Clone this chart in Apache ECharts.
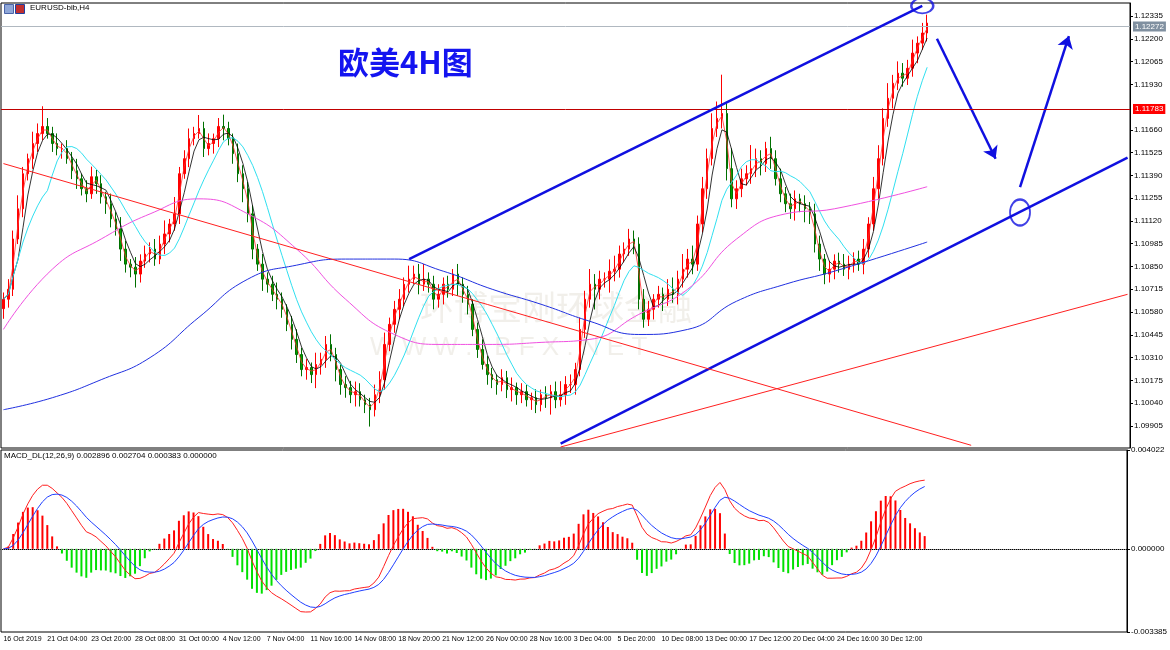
<!DOCTYPE html>
<html><head><meta charset="utf-8">
<script src="https://cdn.jsdelivr.net/npm/echarts@6/dist/echarts.min.js"></script>
<style>html,body{margin:0;padding:0;background:#fff}#c{width:1170px;height:650px}</style>
</head><body><div id="c"></div>
<script>
const closes = [
1.10656,1.10715,1.11013,1.11192,1.11400,1.11489,1.11579,1.11638,1.11680,1.11638,
1.11579,1.11549,1.11549,1.11489,1.11418,1.11370,1.11311,1.11281,1.11382,1.11341,
1.11263,1.11222,1.11132,1.11073,1.10953,1.10864,1.10846,1.10805,1.10882,1.10924,
1.10953,1.10894,1.10983,1.11043,1.11102,1.11162,1.11400,1.11489,1.11608,1.11638,
1.11668,1.11549,1.11579,1.11608,1.11680,1.11668,1.11608,1.11519,1.11400,1.11311,
1.11162,1.10953,1.10864,1.10775,1.10745,1.10685,1.10656,1.10596,1.10507,1.10418,
1.10328,1.10239,1.10251,1.10209,1.10269,1.10299,1.10388,1.10328,1.10239,1.10150,
1.10132,1.10090,1.10108,1.10060,1.10031,1.10001,1.10090,1.10179,1.10388,1.10507,
1.10596,1.10656,1.10745,1.10775,1.10805,1.10745,1.10775,1.10745,1.10656,1.10685,
1.10745,1.10715,1.10805,1.10745,1.10685,1.10626,1.10477,1.10358,1.10269,1.10209,
1.10179,1.10150,1.10191,1.10120,1.10132,1.10090,1.10108,1.10060,1.10072,1.10031,
1.10090,1.10072,1.10108,1.10060,1.10090,1.10150,1.10150,1.10239,1.10477,1.10656,
1.10745,1.10715,1.10775,1.10775,1.10822,1.10834,1.10924,1.10953,1.11013,1.10983,
1.10656,1.10537,1.10596,1.10656,1.10685,1.10656,1.10715,1.10685,1.10775,1.10834,
1.10894,1.10864,1.11102,1.11311,1.11489,1.11668,1.11728,1.11757,1.11430,1.11251,
1.11311,1.11370,1.11400,1.11430,1.11489,1.11460,1.11549,1.11489,1.11370,1.11281,
1.11222,1.11192,1.11251,1.11222,1.11192,1.11162,1.10983,1.10894,1.10805,1.10834,
1.10882,1.10864,1.10834,1.10864,1.10894,1.10864,1.10953,1.11102,1.11311,1.11489,
1.11728,1.11847,1.11936,1.11996,1.11966,1.12025,1.12115,1.12174,1.12234,1.12293];
const firstOpen = 1.10600;
const upperWickPips = [
4,6,5,8,4,3,7,6,12,5, 4,6,3,5,4,7,3,5,6,4, 5,3,6,4,7,5,3,6,4,5, 4,6,5,8,3,10,4,5,6,4,
8,4,6,3,5,7,4,3,6,5, 4,5,3,6,4,5,7,4,3,5, 6,4,5,3,7,4,5,6,4,3, 5,4,6,5,3,4,6,5,7,4,
5,6,4,8,5,6,9,4,5,6, 4,5,3,6,4,5,3,4,6,5, 4,3,5,4,6,3,5,4,3,5, 3,5,4,6,8,5,6,4,7,5,
9,6,5,4,7,8,5,4,6,5, 4,6,5,3,5,4,6,7,5,9, 6,8,5,7,6,9,10,23,6,12, 5,6,5,14,6,5,4,7,5,6,
4,6,5,3,5,4,6,5,3,5, 4,5,6,5,4,5,6,4,7,8, 6,9,5,7,6,5,8,4,6,5];
const lowerWickPips = [
6,5,4,3,5,4,6,5,4,3, 5,4,6,3,5,6,4,5,3,6, 4,6,5,4,7,5,6,8,5,4, 5,4,3,6,5,4,6,3,5,4,
3,5,4,6,5,7,4,6,5,8, 5,6,4,7,5,4,6,5,4,6, 5,4,6,5,8,6,5,4,7,6, 6,5,7,4,5,10,4,5,6,4,
5,6,4,5,3,6,4,5,6,5, 6,5,4,7,5,6,4,5,3,6, 5,6,4,5,7,6,5,4,6,5, 4,6,10,5,4,6,5,6,4,5,
5,12,6,5,8,6,5,5,4,6, 6,5,4,6,5,7,4,5,6,5, 5,6,4,5,6,4,5,6,7,5, 6,5,4,6,5,7,5,6,4,5,
5,6,7,5,8,6,5,7,6,5, 6,5,4,6,5,4,6,5,4,6, 4,5,6,4,5,4,5,6,4,5];
const maMagentaRead = {0:1.10477,10:1.10834,20:1.11013,30:1.11162,40:1.11251,50:1.11162,60:1.10953,70:1.10656,80:1.10447,90:1.10388,100:1.10388,110:1.10400,120:1.10418,130:1.10566,140:1.10715,150:1.11013,160:1.11162,170:1.11192,189:1.11323};
const maBlueRead = {0:1.10001,10:1.10072,20:1.10179,30:1.10310,40:1.10549,50:1.10775,60:1.10858,70:1.10894,80:1.10894,90:1.10822,100:1.10715,110:1.10626,120:1.10525,130:1.10447,140:1.10477,150:1.10644,160:1.10745,170:1.10822,189:1.10995};
const priceTicks = [1.09905,1.10040,1.10175,1.10310,1.10445,1.10580,1.10715,1.10850,1.10985,1.11120,1.11255,1.11390,1.11525,1.11660,1.11930,1.12065,1.12200,1.12335];
const macdTicks = [-0.003385,0,0.004022];
const timeLabels = ['16 Oct 2019','21 Oct 04:00','23 Oct 20:00','28 Oct 08:00','31 Oct 00:00','4 Nov 12:00','7 Nov 04:00','11 Nov 16:00','14 Nov 08:00','18 Nov 20:00','21 Nov 12:00','26 Nov 00:00','28 Nov 16:00','3 Dec 04:00','5 Dec 20:00','10 Dec 08:00','13 Dec 00:00','17 Dec 12:00','20 Dec 04:00','24 Dec 16:00','30 Dec 12:00'];
const blankBars = 41;

const N = closes.length, T = N + blankBars;
const cats = Array.from({length:T},(_,i)=>i);
const ohlc = closes.map((c,i)=>{
  const o = i===0?firstOpen:closes[i-1];
  return [o,c,Math.min(o,c)-lowerWickPips[i]*0.0001,Math.max(o,c)+upperWickPips[i]*0.0001];
});
function sma(p){return closes.map((_,i)=>{const s=Math.max(0,i-p+1);let t=0;for(let k=s;k<=i;k++)t+=closes[k];return +(t/(i-s+1)).toFixed(5);});}
function sparse(m){return cats.map(i=>m[i]!==undefined?m[i]:null);}
function ema(arr,p){const a=2/(p+1);let r=[],v=arr[0];arr.forEach((x,i)=>{v=i?a*x+(1-a)*v:x;r.push(v);});return r;}
const e1=ema(closes,8),e2=ema(closes,17);
const macd=e1.map((v,i)=>v-e2[i]);
const sig=ema(macd,6);
const hist=macd.map((v,i)=>2*(v-sig[i]));
const tickShow=(i)=>i%9===0&&i/9<timeLabels.length;

const chart = echarts.init(document.getElementById('c'));
const F='"Liberation Sans",sans-serif';
chart.setOption({
  animation:false, backgroundColor:'#fff',
  title:{text:'欧美4H图',left:333,top:42,textStyle:{color:'#1414f0',fontSize:31,fontWeight:'bold',fontFamily:'"Noto Sans CJK SC"'}},
  graphic:[
    {type:'rect',left:4,top:4,shape:{width:9,height:9},style:{fill:'#8fa7d8',stroke:'#4a64a8'}},
    {type:'rect',left:15,top:4,shape:{width:9,height:9},style:{fill:'#c03030',stroke:'#2040a0'}},
    {type:'text',left:30,top:4,style:{text:'EURUSD-bib,H4',fontSize:8,fontFamily:F,fill:'#000'}},
    {type:'text',left:4,top:452,style:{text:'MACD_DL(12,26,9) 0.002896 0.002704 0.000383 0.000000',fontSize:8,fontFamily:F,fill:'#000'}},
    {type:'text',left:370,top:335,style:{text:'W W W . I B F X . N E T',fontSize:26,fontFamily:F,fill:'rgba(200,190,170,0.25)'}},
    {type:'text',left:420,top:290,style:{text:'环博宝刚环球金融',fontSize:34,fontFamily:'"Noto Sans CJK SC"',fill:'rgba(200,190,170,0.25)'}}
  ],
  grid:[
    {left:1,right:40,top:3,height:445,show:true,borderColor:'#000',borderWidth:1},
    {left:1,right:40,top:450,height:182,show:true,borderColor:'#000',borderWidth:1}
  ],
  xAxis:[
    {type:'category',data:cats,gridIndex:0,boundaryGap:true,axisLabel:{show:false},axisTick:{show:false},axisLine:{show:false}},
    {type:'category',data:cats,gridIndex:1,boundaryGap:true,axisLine:{lineStyle:{color:'#000'}},
     axisTick:{interval:tickShow,length:3,lineStyle:{color:'#000'}},
     axisLabel:{interval:tickShow,showMinLabel:true,hideOverlap:false,formatter:(v,i)=>timeLabels[i/9]||'',align:'left',fontSize:7,color:'#000',fontFamily:F,margin:4}}
  ],
  yAxis:[
    {type:'value',gridIndex:0,position:'right',min:1.09774,max:1.12412,splitLine:{show:false},
     axisLine:{show:true,lineStyle:{color:'#000'}},axisTick:{show:true,customValues:priceTicks,length:3},
     axisLabel:{customValues:priceTicks,formatter:v=>v.toFixed(5),fontSize:8,color:'#000',fontFamily:F,margin:4}},
    {type:'value',gridIndex:1,position:'right',min:-0.003385,max:0.004022,splitLine:{show:false},
     axisLine:{show:true,lineStyle:{color:'#000'}},axisTick:{show:true,customValues:macdTicks,length:3},
     axisLabel:{customValues:macdTicks,formatter:v=>v.toFixed(6),fontSize:8,color:'#000',fontFamily:F,margin:4}}
  ],
  series:[
    {type:'candlestick',data:ohlc,barWidth:2,itemStyle:{color:'#ff0000',color0:'#00a000',borderColor:'#ff0000',borderColor0:'#007000',borderWidth:1}},
    {type:'line',data:sma(2),symbol:'none',lineStyle:{color:'#ff3030',width:0.8},z:3,
     markLine:{silent:true,symbol:'none',precision:5,data:[
       {yAxis:1.12272,lineStyle:{color:'#b0b8c0',width:1,type:'solid'},label:{show:true,position:'end',formatter:'1.12272',backgroundColor:'#8090a0',color:'#fff',fontSize:8,padding:[1,2],distance:3}},
       {yAxis:1.11783,lineStyle:{color:'#c00000',width:1,type:'solid'},label:{show:true,position:'end',formatter:'1.11783',backgroundColor:'#ff0000',color:'#fff',fontSize:8,padding:[1,2],distance:3}},
       [{coord:[83,1.10894]},{coord:[188,1.12395],lineStyle:{color:'#1010e0',width:2.5,type:'solid'}}],
       [{coord:[114,1.0980]},{coord:[230,1.11495],lineStyle:{color:'#1010e0',width:2.5,type:'solid'}}],
       [{coord:[0,1.11460]},{coord:[198,1.0979],lineStyle:{color:'#ff2020',width:1,type:'solid'}}],
       [{coord:[114,1.0978]},{coord:[230,1.10685],lineStyle:{color:'#ff2020',width:1,type:'solid'}}]
     ],label:{show:false}}},
    {type:'line',data:sma(4),symbol:'none',lineStyle:{color:'#000',width:0.8},z:3},
    {type:'line',data:sma(10),symbol:'none',lineStyle:{color:'#30e0f0',width:1},z:3},
    {type:'line',data:sparse(maMagentaRead),connectNulls:true,smooth:true,symbol:'none',lineStyle:{color:'#f050e0',width:1},z:3},
    {type:'line',data:sparse(maBlueRead),connectNulls:true,smooth:true,symbol:'none',lineStyle:{color:'#2030e0',width:1},z:3},
    {type:'lines',coordinateSystem:'cartesian2d',xAxisIndex:0,yAxisIndex:0,symbol:['none','arrow'],symbolSize:12,
     lineStyle:{color:'#1010e0',width:2.5,opacity:1},data:[{coords:[[191,1.12200],[203,1.11489]]},{coords:[[208,1.11320],[218,1.12216]]}]},
    {type:'scatter',data:[[188,1.12395]],symbol:'circle',symbolSize:[22,15],itemStyle:{color:'rgba(0,0,0,0)',borderColor:'#1010e0',borderWidth:2},z:5},
    {type:'scatter',data:[[208,1.11170]],symbol:'circle',symbolSize:[20,26],itemStyle:{color:'rgba(0,0,0,0)',borderColor:'#1010e0',borderWidth:2},z:5},
    {type:'bar',xAxisIndex:1,yAxisIndex:1,data:hist.map(v=>({value:v,itemStyle:{color:v>=0?'#ff0000':'#00e000'}})),barWidth:2,
     markLine:{silent:true,symbol:'none',data:[{yAxis:0}],lineStyle:{color:'#888',type:'dotted',width:1},label:{show:false}}},
    {type:'line',xAxisIndex:1,yAxisIndex:1,data:macd,symbol:'none',lineStyle:{color:'#ff2020',width:1}},
    {type:'line',xAxisIndex:1,yAxisIndex:1,data:sig,symbol:'none',lineStyle:{color:'#2040ff',width:1}}
  ]
});
</script></body></html>
